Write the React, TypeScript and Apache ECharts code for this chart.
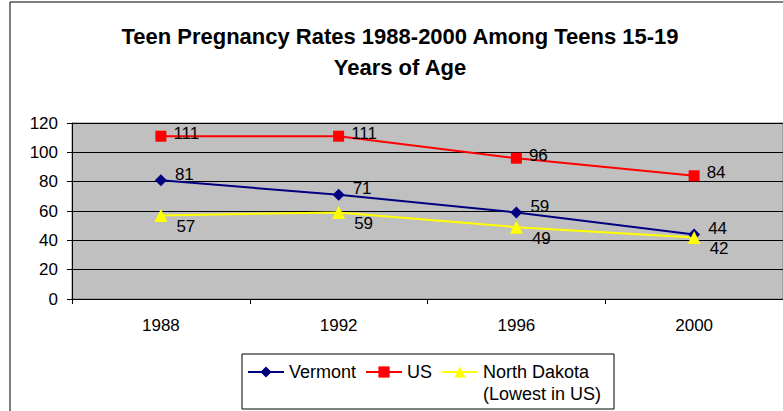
import React, { useEffect, useRef } from "react";
import * as echarts from "echarts";

const years = ["1988", "1992", "1996", "2000"];
const vermont = [81, 71, 59, 44];
const us = [111, 111, 96, 84];
const northDakota = [57, 59, 49, 42];
const seriesNames = ["Vermont", "US", "North Dakota\n(Lowest in US)"];
const titleText = "Teen Pregnancy Rates 1988-2000 Among Teens 15-19\nYears of Age";

const FONT = "Liberation Sans, Arial, sans-serif";

export default function App() {
  const ref = useRef<HTMLDivElement>(null);
  useEffect(() => {
    if (!ref.current) return;
    const chart = echarts.init(ref.current, undefined, { renderer: "svg" });
    const labelStyle = { show: true, position: "right", color: "#000", fontSize: 17, fontFamily: FONT };
    chart.setOption({
      animation: false,
      backgroundColor: "#fff",
      textStyle: { fontFamily: FONT },
      title: {
        text: titleText,
        left: 395,
        textAlign: "center",
        top: 16,
        textStyle: { fontSize: 22, fontWeight: "bold", color: "#000", lineHeight: 31, fontFamily: FONT },
      },
      graphic: [
        { type: "rect", shape: { x: 10, y: 2, width: 820, height: 430 }, style: { fill: "none", stroke: "#000", lineWidth: 1 }, z: 0 },
        { type: "rect", shape: { x: 242, y: 354, width: 372, height: 55 }, style: { fill: "none", stroke: "#000", lineWidth: 1 }, z: 10 },
      ],
      grid: { left: 72, top: 123, width: 712, height: 176, show: true, backgroundColor: "#C0C0C0", borderColor: "#808080", borderWidth: 1 },
      xAxis: {
        type: "category",
        data: years,
        boundaryGap: true,
        axisLine: { lineStyle: { color: "#000" } },
        axisTick: { show: true, alignWithLabel: false, length: 5, lineStyle: { color: "#000" } },
        axisLabel: { color: "#000", fontSize: 17, margin: 18, fontFamily: FONT },
      },
      yAxis: {
        type: "value",
        min: 0,
        max: 120,
        interval: 20,
        axisLine: { show: true, lineStyle: { color: "#000" } },
        axisTick: { show: true, length: 5, lineStyle: { color: "#000" } },
        axisLabel: { color: "#000", fontSize: 17, margin: 14, fontFamily: FONT },
        splitLine: { show: true, lineStyle: { color: "#000", width: 1 } },
      },
      legend: {
        left: 242,
        top: 331,
        orient: "horizontal",
        borderWidth: 0,
        padding: [8, 8, 6, 5],
        itemGap: 9,
        itemWidth: 36,
        itemHeight: 14,
        textStyle: { color: "#000", fontSize: 18, fontFamily: FONT, lineHeight: 22 },
        formatter: (name: string) => (name === seriesNames[2] ? "\n" + name : name),
        data: seriesNames,
      },
      series: [
        {
          name: seriesNames[0], type: "line", data: vermont,
          symbol: "diamond", symbolSize: 12,
          lineStyle: { color: "#000080", width: 2 }, itemStyle: { color: "#000080" },
          label: { ...labelStyle, offset: [3, -6] },
        },
        {
          name: seriesNames[1], type: "line", data: us,
          symbol: "rect", symbolSize: 11,
          lineStyle: { color: "#FF0000", width: 2 }, itemStyle: { color: "#FF0000" },
          label: { ...labelStyle, offset: [2, -3] },
        },
        {
          name: seriesNames[2], type: "line", data: northDakota,
          symbol: "triangle", symbolSize: 13,
          lineStyle: { color: "#FFFF00", width: 2 }, itemStyle: { color: "#FFFF00" },
          label: { ...labelStyle, offset: [4, 11] },
        },
      ],
    });
    return () => chart.dispose();
  }, []);
  return <div ref={ref} style={{ position: "fixed", left: 0, top: 0, width: 783, height: 411 }} />;
}
